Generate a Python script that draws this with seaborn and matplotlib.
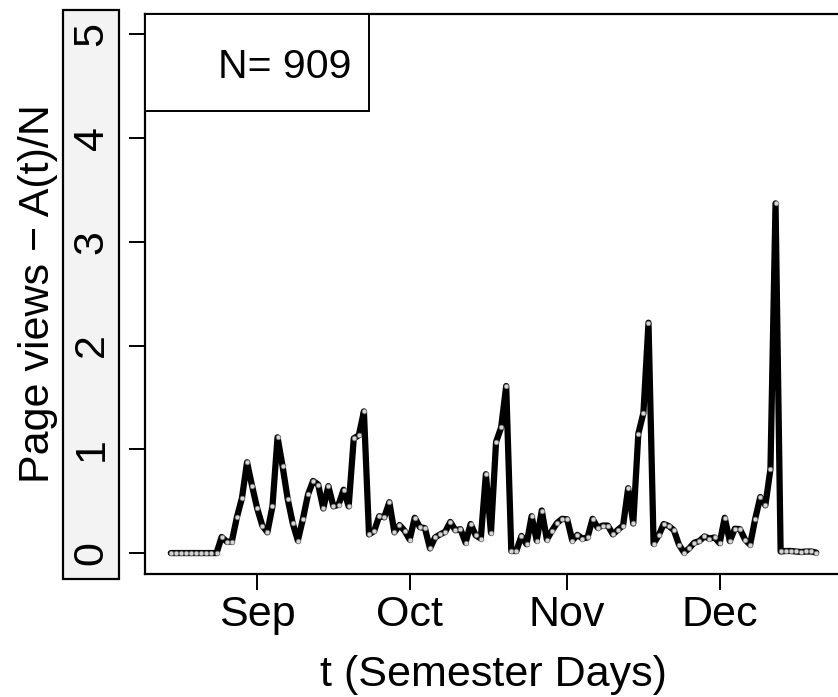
import numpy as np
import pandas as pd
import matplotlib
matplotlib.use("Agg")
import matplotlib.pyplot as plt
import matplotlib.dates as mdates
from matplotlib.patches import Rectangle
import seaborn as sns

# ---------------- data ----------------
start_date = "2014-08-15"
page_views = [
    0, 0, 0, 0, 0, 0, 0, 0, 0, 0,
    0.155, 0.11, 0.11, 0.345, 0.53, 0.875, 0.645, 0.43, 0.265, 0.20,
    0.45, 1.115, 0.835, 0.52, 0.285, 0.12, 0.33, 0.565, 0.695, 0.66,
    0.43, 0.645, 0.45, 0.465, 0.61, 0.45, 1.105, 1.135, 1.365, 0.18,
    0.21, 0.355, 0.345, 0.49, 0.20, 0.27, 0.215, 0.13, 0.34, 0.25,
    0.24, 0.045, 0.15, 0.18, 0.205, 0.30, 0.22, 0.23, 0.10, 0.28,
    0.17, 0.14, 0.76, 0.195, 1.07, 1.21, 1.61, 0.02, 0.02, 0.165,
    0.085, 0.355, 0.12, 0.41, 0.13, 0.215, 0.29, 0.33, 0.325, 0.12,
    0.175, 0.14, 0.15, 0.33, 0.245, 0.265, 0.265, 0.18, 0.225, 0.265,
    0.625, 0.285, 1.15, 1.35, 2.22, 0.09, 0.17, 0.28, 0.26, 0.22,
    0.08, 0.005, 0.045, 0.10, 0.115, 0.16, 0.14, 0.15, 0.095, 0.34,
    0.115, 0.235, 0.23, 0.13, 0.08, 0.33, 0.54, 0.46, 0.81, 3.37,
    0.015, 0.02, 0.02, 0.015, 0.01, 0.015, 0.015, 0.005,
]
month_ticks = ["2014-09-01", "2014-10-01", "2014-11-01", "2014-12-01"]
month_labels = ["Sep", "Oct", "Nov", "Dec"]
y_ticks = [0, 1, 2, 3, 4, 5]
n_students = 909
x_label = "t (Semester Days)"
y_label = "Page views \u2212 A(t)/N"

dates = pd.date_range(start_date, periods=len(page_views), freq="D")
df = pd.DataFrame({"date": dates, "views": page_views})

# ---------------- style ----------------
sns.set_style("ticks")
plt.rcParams["font.family"] = ["Liberation Sans", "DejaVu Sans"]
plt.rcParams["text.color"] = "black"
plt.rcParams["axes.labelcolor"] = "black"
plt.rcParams["xtick.color"] = "black"
plt.rcParams["ytick.color"] = "black"

W, H = 838, 697
fig = plt.figure(figsize=(W / 100, H / 100), dpi=100)


def fx(px):
    return px / W


def fy(py):
    return 1 - py / H


ax_l, ax_r, ax_t, ax_b = 145, 842, 13.5, 573.8
ax = fig.add_axes([fx(ax_l), fy(ax_b), fx(ax_r) - fx(ax_l), fy(ax_t) - fy(ax_b)])

sns.lineplot(data=df, x="date", y="views", ax=ax, color="black",
             linewidth=4.5, marker="o", markersize=3.4,
             markerfacecolor="#d6d6d6", markeredgecolor="#6a6a6a",
             markeredgewidth=0.5, zorder=3)

dnum = mdates.date2num(dates)
pad = 0.04 * (dnum[-1] - dnum[0])
ax.set_xlim(dnum[0] - pad, dnum[-1] + pad)
ax.set_ylim(-0.04 * 5, 5 + 0.04 * 5)

ax.set_xticks(mdates.date2num(pd.to_datetime(month_ticks)))
ax.set_xticklabels(month_labels)
ax.set_yticks(y_ticks)
ax.set_yticklabels([str(v) for v in y_ticks])

ax.tick_params(axis="both", direction="out", length=11.5, width=1.4,
               labelsize=31, colors="black", labelcolor="black")
ax.tick_params(axis="x", pad=3.5)
ax.tick_params(axis="y", pad=12.5, labelrotation=90)
for lab in ax.get_yticklabels():
    lab.set_va("center")
    lab.set_ha("right")

for s in ax.spines.values():
    s.set_visible(True)
    s.set_linewidth(1.6)
    s.set_color("black")

ax.set_xlabel(x_label, fontsize=31, color="black")
ax.set_ylabel(y_label, fontsize=31, color="black")
axw = ax_r - ax_l
axh = ax_b - ax_t
ax.yaxis.set_label_coords((58 - ax_l) / axw, 0.5)
ax.xaxis.set_label_coords(((ax_l + ax_r) / 2 - ax_l) / axw, (ax_b - 655) / axh)

# gray box behind y tick labels
fig.patches.append(Rectangle((fx(63), fy(579)), fx(119) - fx(63), fy(10) - fy(579),
                             transform=fig.transFigure, facecolor="#f3f3f3",
                             edgecolor="black", linewidth=1.6, zorder=-1))

# legend-like box with N
ax.add_patch(Rectangle((0, (ax_b - 111) / axh), (369 - ax_l) / axw, 1 - (ax_b - 111) / axh,
                       transform=ax.transAxes, facecolor="white", edgecolor="black",
                       linewidth=1.4, zorder=5, clip_on=False))
fig.text(fx(351), fy(78), f"N= {n_students}", ha="right", va="baseline",
         fontsize=29.5, color="black", zorder=6)

fig.savefig("out.png", dpi=100)
